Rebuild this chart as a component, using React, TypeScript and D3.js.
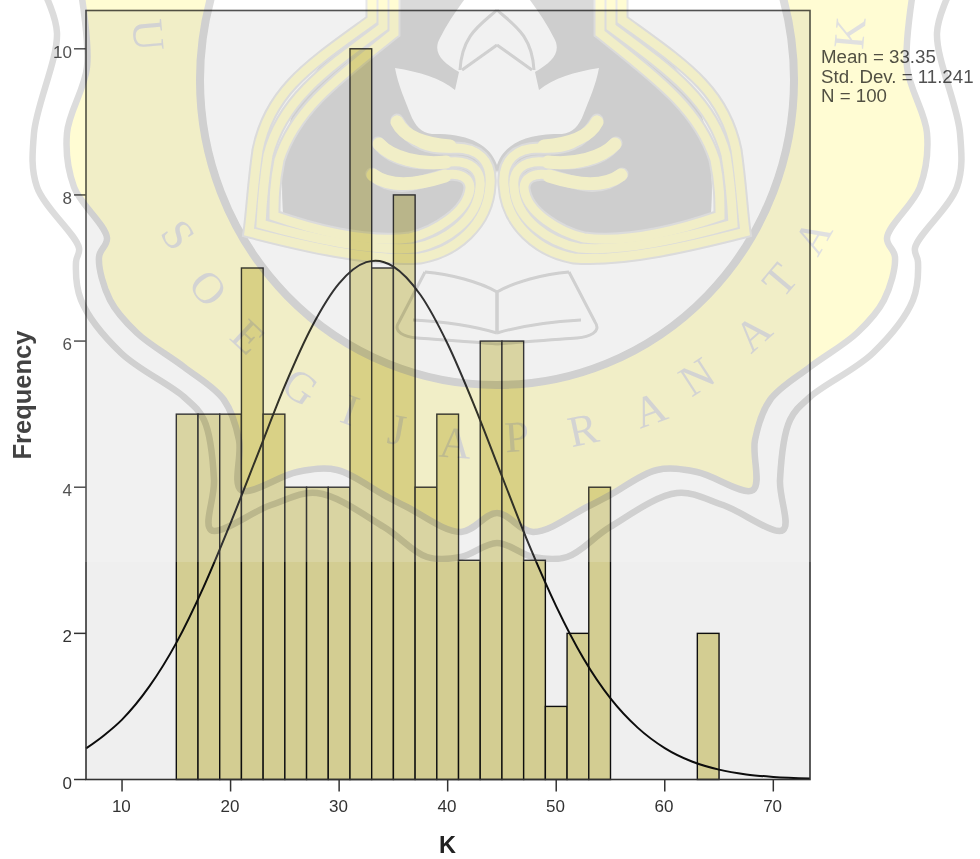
import React from "react";
import * as d3 from "d3";

// ---------- chart data ----------
const binStarts = [15,17,19,21,23,25,27,29,31,33,35,37,39,41,43,45,47,49,51,53,63];
const binCounts = [5,5,5,7,5,4,4,4,10,7,8,4,5,3,6,6,3,1,2,4,2];
const binWidth = 2;
const curveX = [6.68,8.3,10,12.5,15,17.5,20,22.5,25,27.5,30,32.5,33.35,35,37.5,40,42.5,45,47.5,50,52.5,55,57.5,60,62.5,65,67.5,70,73.38];
const curveY = [0.425,0.6,0.82,1.27,1.87,2.63,3.51,4.45,5.39,6.2,6.79,7.08,7.1,7.02,6.63,5.96,5.1,4.15,3.21,2.37,1.66,1.11,0.71,0.43,0.246,0.135,0.07,0.035,0.012];
const xTicks = [10,20,30,40,50,60,70];
const yTicks = [0,2,4,6,8,10];
const statLines = ["Mean = 33.35","Std. Dev. = 11.241","N = 100"];

// ---------- background seal (right half outlines, mirrored) ----------
const MID = 497;
const innerEdge: [number,number][] = [[913,-8],[907,67],[927,133],[920,187],[887,238],[895,257],[884,300],[857,333],[810,367],[770,400],[755,440],[753,490],[697,472],[657,470],[610,495],[587,507],[533,532],[497,513]];
const outerEdge: [number,number][] = [[950,-8],[937,33],[960,133],[957,187],[915,248],[918,262],[913,300],[873,353],[810,397],[790,420],[780,480],[783,530],[723,505],[677,493],[610,527],[567,557],[533,557],[497,543]];
const sealLetters: [string,number,number,number][] = [
  ["U",148,35,85],["S",178,235,55],["O",208,288,50],["E",248,337,43],["G",300,387,35],["I",350,410,20],["J",397,430,10],
  ["A",455,443,4],["P",517,437,-4],["R",583,430,-12],["A",650,410,-20],["N",697,377,-33],["A",753,333,-42],["T",780,280,-50],["A",813,237,-60],["K",850,33,-85],
];
const ribbonPaths = [
  "M372,-5 V20 C310,65 270,90 258,150 C253,185 252,210 249,232 C300,245 370,262 420,258 C455,252 488,225 490,185 C492,160 478,148 455,148 C430,150 412,145 397,120",
  "M383,-5 V27 C325,70 282,100 268,155 C263,185 262,205 261,224 C310,238 370,252 415,248 C445,242 478,220 480,187 C482,170 470,160 450,162 C425,164 395,165 378,143",
  "M394,-5 V33 C335,80 295,110 279,160 C274,185 274,200 274,216 C320,232 370,243 410,238 C435,232 468,212 470,188 C470,178 460,172 445,175 C420,182 395,195 372,174",
];
const lobePaths = ["M397,122 C405,138 425,144 450,146","M379,144 C392,158 420,165 446,162","M373,175 C392,189 420,184 445,176"];
const wingPath = "M497,-8 L368,-8 L368,22 C320,62 275,95 283,213 C330,232 400,250 440,232 C470,215 490,195 497,170 Z";
const flowerPath = "M497,-8 L497,165 C490,145 470,135 440,134 C425,135 418,130 412,118 C405,100 398,85 395,68 C420,72 440,78 455,90 L459,72 C442,62 432,52 440,38 C448,22 458,8 470,-8 Z";
const petalLines = ["M497,10 C480,25 462,35 460,70","M497,45 L462,70"];
const bookLines = ["M425,272 C450,274 480,282 497,292 V333","M413,320 C450,322 480,328 497,333","M425,272 L399,322 C392,332 405,337 417,338 C445,340 475,342 497,344"];

const YELLOW = "#fffcd3";
const EDGE = "#dcdcdc";
const WING = "#dadada";

const outline = d3.line<[number,number]>().curve(d3.curveCatmullRom.alpha(0.5));
const mirrored = (pts: [number,number][]) => pts.map(([x,y]) => [2*MID-x,y] as [number,number]);
const openEdge = (pts: [number,number][]) => outline([...pts, ...mirrored(pts).reverse().slice(1)]) as string;

function SealHalf() {
  return (
    <g>
      <path d={wingPath} fill={WING} />
      {ribbonPaths.map((d,i)=>(<path key={"b"+i} d={d} fill="none" stroke="#e8e8e8" strokeWidth={13} strokeLinejoin="miter" strokeLinecap="round"/>))}
      {ribbonPaths.map((d,i)=>(<path key={"r"+i} d={d} fill="none" stroke={YELLOW} strokeWidth={9} strokeLinejoin="miter" strokeLinecap="round"/>))}
      {lobePaths.map((d,i)=>(<path key={"l"+i} d={d} fill="none" stroke={YELLOW} strokeWidth={13} strokeLinecap="round"/>))}
      <path d={flowerPath} fill="#ffffff" />
      {petalLines.map((d,i)=>(<path key={i} d={d} fill="none" stroke={EDGE} strokeWidth={3}/>))}
      {bookLines.map((d,i)=>(<path key={i} d={d} fill="none" stroke={EDGE} strokeWidth={3}/>))}
    </g>
  );
}

export default function App() {
  const x = d3.scaleLinear().domain([6.68,73.38]).range([86,810]);
  const y = d3.scaleLinear().domain([0,10.524]).range([779.5,10.5]);
  const curve = d3.line<number>().x((_,i)=>x(curveX[i])).y(d=>y(d)).curve(d3.curveMonotoneX);
  const sans = "'Liberation Sans', Arial, sans-serif";
  const axisColor = "#333333";
  return (
    <svg width={980} height={859} viewBox="0 0 980 859" style={{position:"absolute",left:0,top:0,display:"block"}} fontFamily={sans}>
      <defs>
        <clipPath id="sealClip"><rect x={0} y={0} width={980} height={562}/></clipPath>
        <filter id="soft" x="0" y="0" width="100%" height="100%" filterUnits="userSpaceOnUse" primitiveUnits="userSpaceOnUse">
          <feGaussianBlur stdDeviation={0.45}/>
        </filter>
      </defs>
      <g filter="url(#soft)">
      <rect width={980} height={859} fill="#ffffff"/>

      {/* plot */}
      <rect x={x(6.68)} y={y(10.524)} width={x(73.38)-x(6.68)} height={y(0)-y(10.524)} fill="#efefef"/>
      {binStarts.map((s,i)=>(
        <rect key={s} x={x(s)} y={y(binCounts[i])} width={x(s+binWidth)-x(s)} height={y(0)-y(binCounts[i])} fill="#d3cd92" stroke="#111111" strokeWidth={1.4}/>
      ))}
      <path d={curve(curveY) as string} fill="none" stroke="#0c0c0c" strokeWidth={2}/>
      <rect x={x(6.68)} y={y(10.524)} width={x(73.38)-x(6.68)} height={y(0)-y(10.524)} fill="none" stroke={axisColor} strokeWidth={1.6}/>

      {/* axes */}
      {xTicks.map(t=>(
        <g key={t}>
          <line x1={x(t)} x2={x(t)} y1={y(0)} y2={y(0)+12} stroke={axisColor} strokeWidth={1.5}/>
          <text x={x(t)-0.7} y={811.5} textAnchor="middle" fontSize={17} fill="#333">{t}</text>
        </g>
      ))}
      {yTicks.map(t=>(
        <g key={t}>
          <line x1={x(6.68)-12} x2={x(6.68)} y1={y(t)} y2={y(t)} stroke={axisColor} strokeWidth={1.5}/>
          <text x={72} y={y(t)+9} textAnchor="end" fontSize={17} fill="#333">{t}</text>
        </g>
      ))}
      <text x={447.6} y={853} textAnchor="middle" fontSize={23.5} fontWeight="bold" fill="#222">K</text>
      <text transform="translate(30.5,395) rotate(-90)" textAnchor="middle" fontSize={25.5} fontWeight="bold" fill="#222">Frequency</text>
      {statLines.map((s,i)=>(
        <text key={s} x={821} y={63.3+i*19.2} fontSize={18.7} fill="#333">{s}</text>
      ))}

      {/* lighter top of the scanned page */}
      <rect x={0} y={0} width={980} height={562} fill="#ffffff" opacity={0.15}/>

      {/* seal multiplied over the chart */}
      <g clipPath="url(#sealClip)" style={{mixBlendMode:"multiply"}}>
        <path d={openEdge(outerEdge)} fill="#ffffff" stroke={EDGE} strokeWidth={6.5}/>
        <path d={openEdge(innerEdge)} fill={YELLOW} stroke={EDGE} strokeWidth={6.5}/>
        <ellipse cx={MID} cy={80} rx={297} ry={305} fill="#ffffff" stroke={EDGE} strokeWidth={8}/>
        <SealHalf/>
        <g transform={`translate(${2*MID},0) scale(-1,1)`}><SealHalf/></g>
        {sealLetters.map(([ch,lx,ly,r],i)=>(
          <text key={i} transform={`translate(${lx},${ly}) rotate(${r})`} textAnchor="middle" dy="0.33em" fontFamily="'Liberation Serif', serif" fontSize={44} fill="#e0e0e0">{ch}</text>
        ))}
      </g>
      </g>
    </svg>
  );
}
